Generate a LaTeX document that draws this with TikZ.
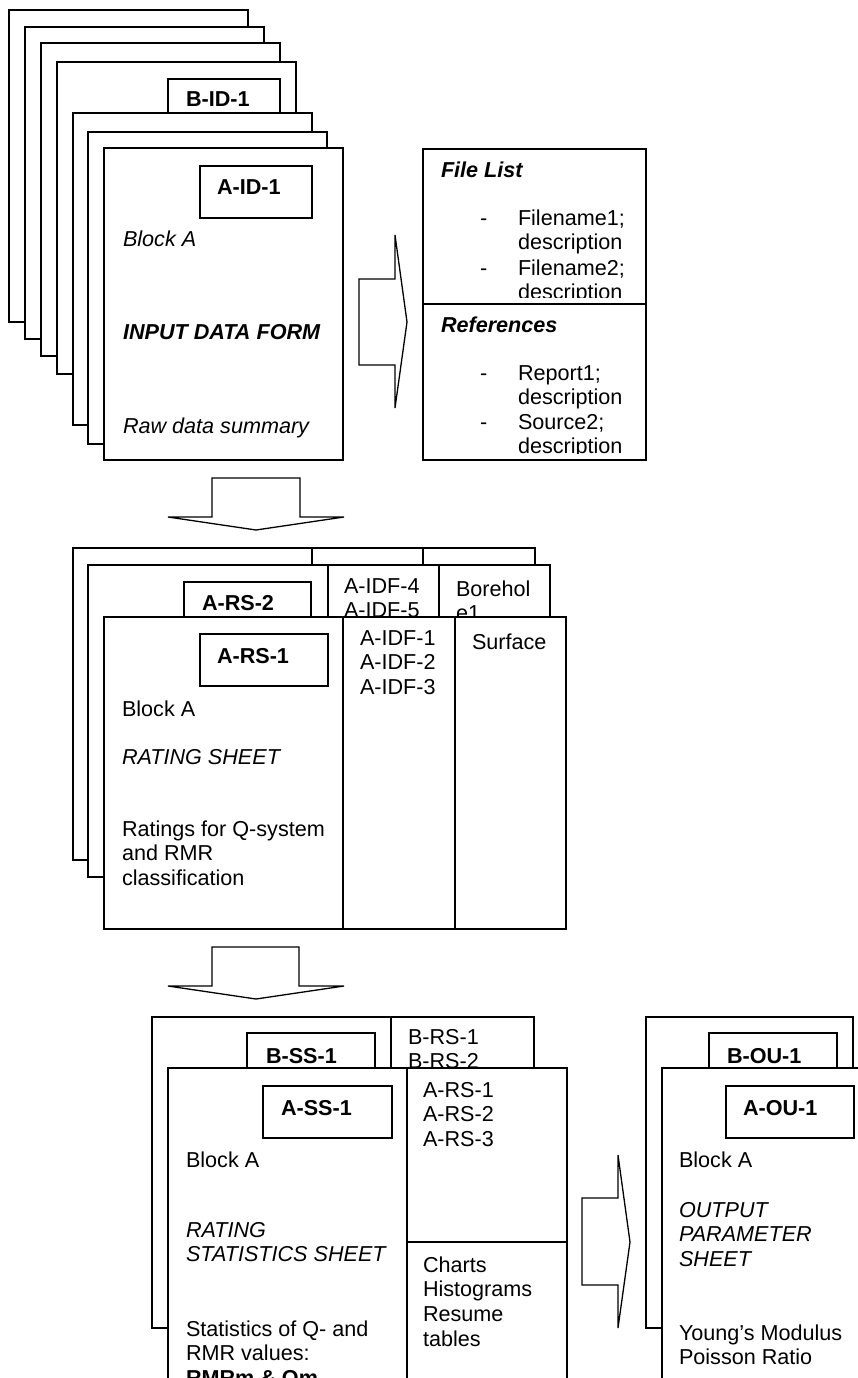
\documentclass[tikz,border=0pt]{standalone}
\usepackage{fontspec}
\setmainfont{Liberation Sans}
% left-aligned block of lines whose reference point is the first baseline
\newcommand\linestack[1]{\vtop{\halign{##\hfil\cr#1\crcr}}}

\begin{document}
\begin{tikzpicture}[x=1pt,y=-1pt,
  card/.style={draw=black,fill=white,line width=1.3pt,line join=miter},
  rule/.style={draw=black,line width=1.3pt},
  txt/.style={anchor=base west,inner sep=0pt,outer sep=0pt,
              font=\fontsize{21.6}{24.9}\selectfont},
  itxt/.style={txt,font=\fontsize{21.6}{24.9}\selectfont\itshape},
  btxt/.style={txt,font=\fontsize{21.6}{24.9}\selectfont\bfseries},
  bitxt/.style={txt,font=\fontsize{21.6}{24.9}\selectfont\bfseries\itshape},
  blockarrow/.style={draw=black,fill=white,line width=1.3pt,line join=miter}
]
\useasboundingbox (0,0) rectangle (858,1378);
\fill[white] (0,0) rectangle (858,1378);
\clip (0,0) rectangle (858,1378);

% ---------------- input data forms ----------------
\draw[card] (9,10)  rectangle (248,322);
\draw[card] (25,27) rectangle (264,339);
\draw[card] (41,43) rectangle (280,356);
\draw[card] (57,62) rectangle (296,374);
\draw[card] (168,79) rectangle (280,135);
\node[btxt] (bid1) at (186,107) {B-ID-1};
\draw[card] (73,113) rectangle (312,425);
\draw[card] (88,132) rectangle (327,444);
\draw[card] (104,148) rectangle (343,460);
\draw[card] (200,166) rectangle (312,218);
\node[btxt]  (aid1)   at (217,194) {A-ID-1};
\node[itxt]  (idfblk) at (123,246) {Block A};
\node[bitxt] (idftit) at (123,339) {INPUT DATA FORM};
\node[itxt]  (idfraw) at (123,433) {Raw data summary};

% arrow to the file list
\draw[blockarrow] (359,279) -- (395,279) -- (395,235) -- (407,322)
  -- (395,408) -- (395,365) -- (359,365) -- cycle;

% ---------------- file list / references ----------------
\draw[card] (423,149) rectangle (646,460);
\draw[rule] (423,304) -- (646,304);
\begin{scope}
  \clip (423,149) rectangle (646,297);
  \node[bitxt] (flhead) at (441,177) {File List};
  \node[txt] (fldash1) at (480,225) {-};
  \node[txt] (flitem1) at (518,225) {\linestack{Filename1;\cr description}};
  \node[txt] (fldash2) at (480,275) {-};
  \node[txt] (flitem2) at (518,275) {\linestack{Filename2;\cr description}};
\end{scope}
\begin{scope}
  \clip (423,304) rectangle (646,453);
  \node[bitxt] (rfhead) at (441,332) {References};
  \node[txt] (rfdash1) at (480,380) {-};
  \node[txt] (rfitem1) at (518,380) {\linestack{Report1;\cr description}};
  \node[txt] (rfdash2) at (480,429) {-};
  \node[txt] (rfitem2) at (518,429) {\linestack{Source2;\cr description}};
\end{scope}

% arrow down to the rating sheets
\draw[blockarrow] (212,478) -- (300,478) -- (300,517) -- (344,517)
  -- (256,530) -- (168,517) -- (212,517) -- cycle;

% ---------------- rating sheets ----------------
\draw[card] (73,548) rectangle (535,860);
\draw[rule] (312,548) -- (312,860);
\draw[rule] (423,548) -- (423,860);
\draw[card] (88,565) rectangle (550,877);
\draw[rule] (328,565) -- (328,877);
\draw[rule] (439,565) -- (439,877);
\draw[card] (184,582) rectangle (311,640);
\node[btxt] (ars2) at (202,610) {A-RS-2};
\node[txt] (idf45) at (344,593) {\linestack{A-IDF-4\cr A-IDF-5}};
\node[txt] (bore)  at (456,596) {\linestack{Borehol\cr e1}};
\draw[card] (104,617) rectangle (566,929);
\draw[rule] (343,617) -- (343,929);
\draw[rule] (455,617) -- (455,929);
\draw[card] (200,634) rectangle (328,686);
\node[btxt] (ars1)   at (217,663) {A-RS-1};
\node[txt]  (rsblk)  at (122,716) {Block A};
\node[itxt] (rstit)  at (122,764) {RATING SHEET};
\node[txt]  (rsdesc) at (122,836) {\linestack{Ratings for Q-system\cr and RMR\cr classification}};
\node[txt]  (idf123) at (360,645) {\linestack{A-IDF-1\cr A-IDF-2\cr A-IDF-3}};
\node[txt]  (surf)   at (472,649) {Surface};

% arrow down to the statistics sheets
\draw[blockarrow] (212,947) -- (299,947) -- (299,986) -- (344,986)
  -- (256,999) -- (168,986) -- (212,986) -- cycle;

% ---------------- rating statistics sheets ----------------
\draw[card] (152,1017) rectangle (534,1328);
\draw[rule] (391,1017) -- (391,1328);
\draw[card] (247,1033) rectangle (375,1090);
\node[btxt] (bss1) at (266,1063) {B-SS-1};
\node[txt] (brs12) at (408,1044) {\linestack{B-RS-1\cr B-RS-2}};
\draw[card] (168,1068) rectangle (567,1400);
\draw[rule] (407,1068) -- (407,1400);
\draw[rule] (407,1242) -- (567,1242);
\draw[card] (263,1086) rectangle (392,1138);
\node[btxt] (ass1)   at (281,1115) {A-SS-1};
\node[txt]  (ssblk)  at (186,1167) {Block A};
\node[itxt] (sstit)  at (186,1237) {\linestack{RATING\cr STATISTICS SHEET}};
\node[txt]  (ssdesc) at (186,1336) {\linestack{Statistics of Q- and\cr RMR values:\cr \bfseries RMRm \& Qm}};
\node[txt]  (ars123) at (423,1097) {\linestack{A-RS-1\cr A-RS-2\cr A-RS-3}};
\node[txt]  (chart)  at (423,1272) {\linestack{Charts\cr Histograms\cr Resume\cr tables}};

% arrow to the output sheets
\draw[blockarrow] (582,1198) -- (618,1198) -- (618,1155) -- (630,1242)
  -- (618,1328) -- (618,1285) -- (582,1285) -- cycle;

% ---------------- output parameter sheets ----------------
\draw[card] (646,1017) rectangle (853,1328);
\draw[card] (709,1033) rectangle (837,1090);
\node[btxt] (bou1) at (727,1063) {B-OU-1};
\draw[card] (662,1068) rectangle (880,1400);
\draw[card] (726,1086) rectangle (854,1138);
\node[btxt] (aou1)   at (743,1115) {A-OU-1};
\node[txt]  (oublk)  at (679,1167) {Block A};
\node[itxt] (outit)  at (679,1217) {\linestack{OUTPUT\cr PARAMETER\cr SHEET}};
\node[txt]  (oudesc) at (679,1340) {\linestack{Young’s Modulus\cr Poisson Ratio}};
\end{tikzpicture}
\end{document}
